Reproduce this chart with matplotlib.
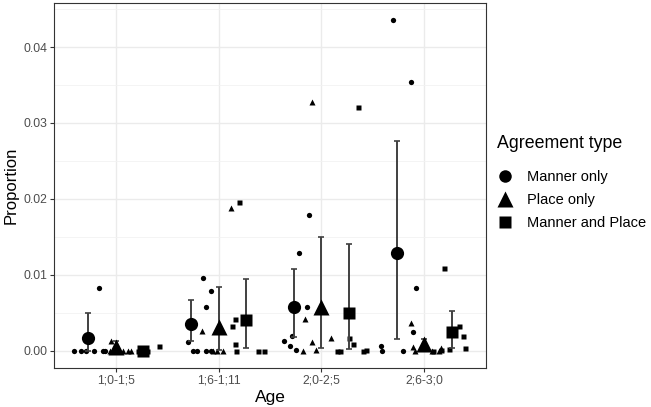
import numpy as np
import matplotlib
matplotlib.use("Agg")
import matplotlib.pyplot as plt
from matplotlib.lines import Line2D

plt.rcParams["font.family"] = ["Liberation Sans", "DejaVu Sans"]

ages = ["1;0-1;5", "1;6-1;11", "2;0-2;5", "2;6-3;0"]
types = ["Manner only", "Place only", "Manner and Place"]

# group means and interval (low, high) per age, for each agreement type
manner_mean = [0.0016, 0.0035, 0.0057, 0.0129]
manner_low = [0.0000, 0.0012, 0.0018, 0.0015]
manner_high = [0.0049, 0.0067, 0.0108, 0.0276]

place_mean = [0.0005, 0.0031, 0.0058, 0.0008]
place_low = [0.0000, 0.0001, 0.0003, 0.0001]
place_high = [0.0012, 0.0084, 0.0149, 0.0015]

both_mean = [0.0000, 0.0040, 0.0050, 0.0024]
both_low = [0.0000, 0.0004, 0.0002, 0.0003]
both_high = [0.0000, 0.0094, 0.0141, 0.0052]

# individual children: proportion and horizontal jitter (category units)
manner_vals = [
    [0, 0, 0, 0, 0, 0, 0.0082],
    [0.0095, 0.0079, 0.0057, 0.0011, 0, 0, 0, 0],
    [0.0179, 0.0128, 0.0058, 0.0019, 0.0013, 0.0006, 0.0001],
    [0.0436, 0.0354, 0.0083, 0.0025, 0, 0.0006, 0],
]
manner_jit = [
    [-0.406, -0.339, -0.290, -0.213, -0.126, -0.106, -0.164],
    [-0.155, -0.077, -0.126, -0.295, -0.251, -0.213, -0.118, -0.077],
    [-0.119, -0.216, -0.142, -0.286, -0.368, -0.309, -0.251],
    [-0.307, -0.129, -0.080, -0.113, -0.206, -0.416, -0.413],
]

place_vals = [
    [0, 0.0012, 0, 0, 0, 0],
    [0.0188, 0.0026, 0, 0, 0],
    [0.0328, 0.0041, 0.0011, 0.0001, 0, 0.0016],
    [0.0036, 0.0005, 0, 0, 0.0003, 0],
]
place_jit = [
    [-0.058, -0.048, 0.019, 0.068, 0.116, 0.145],
    [0.119, -0.160, -0.058, -0.019, 0.039],
    [-0.087, -0.160, -0.092, -0.048, -0.181, 0.092],
    [-0.131, -0.113, -0.087, 0.077, 0.162, 0.145],
]

both_vals = [
    [0, 0, 0.0006],
    [0.0196, 0.0042, 0.0033, 0.0008, 0, 0, 0],
    [0.0321, 0.0017, 0.0008, 0, 0, 0, 0.0001],
    [0.0109, 0.0032, 0.0019, 0.0004, 0.0002, 0.0001, 0],
]
both_jit = [
    [0.215, 0.300, 0.425],
    [0.203, 0.155, 0.135, 0.155, 0.174, 0.381, 0.446],
    [0.352, 0.271, 0.309, 0.148, 0.181, 0.406, 0.438],
    [0.193, 0.336, 0.378, 0.396, 0.237, 0.167, 0.087],
]

means = [manner_mean, place_mean, both_mean]
lows = [manner_low, place_low, both_low]
highs = [manner_high, place_high, both_high]
vals = [manner_vals, place_vals, both_vals]
jits = [manner_jit, place_jit, both_jit]
markers = ["o", "^", "s"]
big_ms = [9.5, 12.0, 9.0]
small_ms = [3.8, 4.6, 3.6]
dodge = [-0.265, 0.0, 0.265]

fig = plt.figure(figsize=(6.51, 4.07), dpi=100)
ax = fig.add_axes([54 / 651, 1 - 368 / 407, 432 / 651, 365 / 407])

xpos = np.arange(1, len(ages) + 1)
bar_col = "#404040"

for k in range(3):
    # jittered individual points
    for i in range(len(ages)):
        xs = xpos[i] + np.array(jits[k][i])
        ax.plot(xs, vals[k][i], linestyle="none", marker=markers[k],
                ms=small_ms[k], color="black", mec="none", zorder=3)
    # means with intervals
    xm = xpos + dodge[k]
    m = np.array(means[k])
    err = np.vstack([m - np.array(lows[k]), np.array(highs[k]) - m])
    ax.errorbar(xm, m, yerr=err, fmt="none", ecolor=bar_col, elinewidth=1.4,
                capsize=2.5, capthick=1.2, zorder=4)
    ax.plot(xm, m, linestyle="none", marker=markers[k], ms=big_ms[k],
            color="black", mec="none", zorder=5)

ax.set_xlim(0.4, 4.6)
ax.set_ylim(-0.0023, 0.0458)
ax.set_xticks(xpos)
ax.set_xticklabels(ages)
ax.set_yticks([0.0, 0.01, 0.02, 0.03, 0.04])
ax.set_yticklabels(["0.00", "0.01", "0.02", "0.03", "0.04"])
ax.set_yticks([0.005, 0.015, 0.025, 0.035, 0.045], minor=True)

ax.grid(True, which="major", color="#EBEBEB", linewidth=1.0, zorder=0)
ax.grid(True, which="minor", axis="y", color="#F2F2F2", linewidth=0.6, zorder=0)
ax.set_axisbelow(True)
for s in ax.spines.values():
    s.set_color("#333333")
    s.set_linewidth(0.8)
ax.tick_params(axis="both", which="major", labelsize=8.8, colors="#333333",
               labelcolor="#4D4D4D", length=3, width=0.8, pad=2)
ax.tick_params(axis="y", which="minor", length=0)

ax.set_xlabel("Age", fontsize=12.5, labelpad=2)
ax.set_ylabel("Proportion", fontsize=12, labelpad=3)

# legend: title as its own text so the gap above the keys matches
fig.text(497 / 651, 1 - 143 / 407, "Agreement type", fontsize=12.8,
         ha="left", va="center")
handles = [Line2D([], [], linestyle="none", marker=markers[k], ms=[9, 11, 8.5][k],
                  color="black", mec="none") for k in range(3)]
leg = fig.legend(handles, types, loc="upper left",
                 bbox_to_anchor=(497 / 651, 1 - 170 / 407), frameon=False,
                 fontsize=10.5, handlelength=1.1,
                 handletextpad=0.95, labelspacing=0.63, borderpad=0,
                 borderaxespad=0)

fig.savefig("out.png", dpi=100)
